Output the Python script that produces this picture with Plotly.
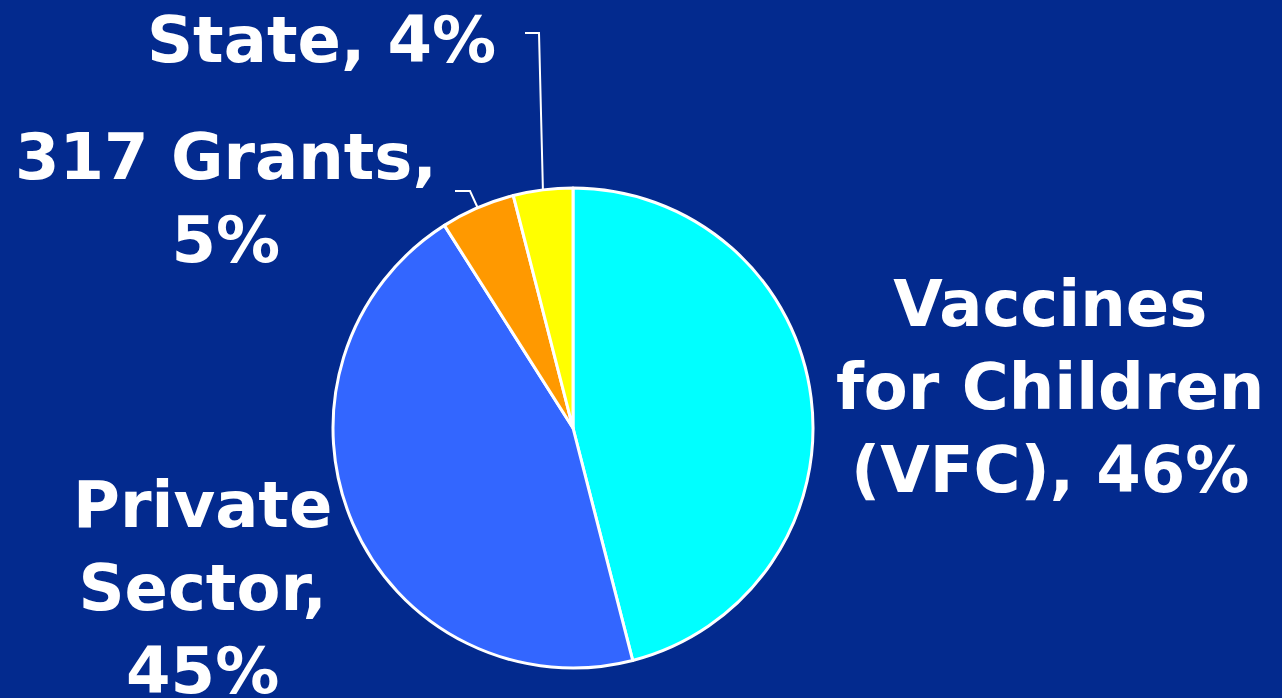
import math
import plotly.graph_objects as go

# data
labels = ["Vaccines for Children (VFC)", "Private Sector", "317 Grants", "State"]
values = [46, 45, 5, 4]
colors = ["#00FFFF", "#3366FF", "#FF9900", "#FFFF00"]
label_text = [
    "Vaccines<br>for Children<br>(VFC), 46%",
    "Private<br>Sector,<br>45%",
    "317 Grants,<br>5%",
    "State, 4%",
]

W, H = 1282, 698
cx, cy, r = 573, 428, 240  # pie centre / radius in px


def px(x):
    return x / W


def py(y):
    return 1 - y / H


fig = go.Figure()
fig.add_trace(
    go.Pie(
        labels=labels,
        values=values,
        sort=False,
        direction="clockwise",
        rotation=0,
        marker=dict(colors=colors, line=dict(color="white", width=3)),
        textinfo="none",
        hoverinfo="label+percent",
        domain=dict(x=[px(cx - r), px(cx + r)], y=[py(cy + r), py(cy - r)]),
        showlegend=False,
    )
)

# label positions (px) - layout choice
label_pos = [(1050, 387), (202, 588), (226, 198), (322, 40)]
font = dict(family="DejaVu Sans, Verdana, sans-serif", size=64, color="white")
for txt, (x, y) in zip(label_text, label_pos):
    fig.add_annotation(
        x=px(x), y=py(y), xref="paper", yref="paper",
        text="<b>" + txt + "</b>", showarrow=False,
        xanchor="center", yanchor="middle", align="center", font=font,
    )

# leader lines to the small slices, edge point from slice mid angle
total = sum(values)
cum = 0
mids = []
for v in values:
    mids.append((cum + v / 2) / total * 2 * math.pi)
    cum += v
elbows = {2: [(455, 191), (470, 191)], 3: [(525, 33), (539, 33)]}
for i, pts in elbows.items():
    a = mids[i]
    ex, ey = cx + r * math.sin(a), cy - r * math.cos(a)
    allp = pts + [(ex, ey)]
    path = "M " + " L ".join(f"{px(x)},{py(y)}" for x, y in allp)
    fig.add_shape(type="path", path=path, xref="paper", yref="paper",
                  line=dict(color="white", width=2))

fig.update_layout(
    width=W, height=H,
    margin=dict(l=0, r=0, t=0, b=0),
    paper_bgcolor="#032A8E",
    plot_bgcolor="#032A8E",
)

fig.write_html(
    "out.html",
    config={"displayModeBar": False},
    post_script="document.body.style.margin='0';document.body.style.background='#032A8E';",
)
